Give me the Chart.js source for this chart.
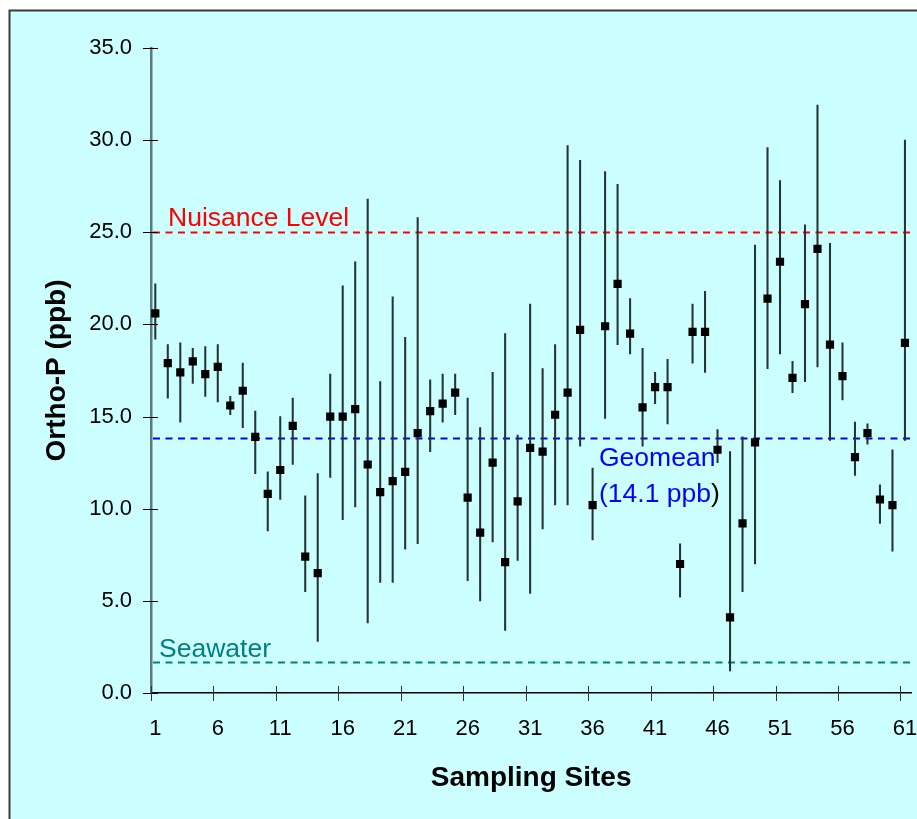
<!DOCTYPE html>
<html>
<head>
<meta charset="utf-8">
<script src="https://cdn.jsdelivr.net/npm/chart.js@4.4.1/dist/chart.umd.min.js"></script>
<style>
  body { margin: 0; background: #fff; }
  #wrap { width: 917px; height: 819px; }
</style>
</head>
<body>
<div id="wrap"><canvas id="orthoChart" width="917" height="819"></canvas></div>
<script>
const CHART = document.getElementById('orthoChart');

// sampling sites 1..61
var sites = [1,2,3,4,5,6,7,8,9,10,11,12,13,14,15,16,17,18,19,20,
  21,22,23,24,25,26,27,28,29,30,31,32,33,34,35,36,37,38,39,40,
  41,42,43,44,45,46,47,48,49,50,51,52,53,54,55,56,57,58,59,60,61];
var siteTicks = [1,6,11,16,21,26,31,36,41,46,51,56,61];
var yTicks = [0,5,10,15,20,25,30,35];

// ortho-P mean and range (ppb)
var means = [20.6,17.9,17.4,18.0,17.3,17.7,15.6,16.4,13.9,10.8,
  12.1,14.5,7.4,6.5,15.0,15.0,15.4,12.4,10.9,11.5,
  12.0,14.1,15.3,15.7,16.3,10.6,8.7,12.5,7.1,10.4,
  13.3,13.1,15.1,16.3,19.7,10.2,19.9,22.2,19.5,15.5,
  16.6,16.6,7.0,19.6,19.6,13.2,4.1,9.2,13.6,21.4,
  23.4,17.1,21.1,24.1,18.9,17.2,12.8,14.1,10.5,10.2,19.0];
var lows = [19.2,16.0,14.7,16.8,16.1,15.8,15.1,14.4,11.9,8.8,
  10.5,12.4,5.5,2.8,11.7,9.4,10.1,3.8,6.0,6.0,
  7.8,8.1,13.1,14.7,15.1,6.1,5.0,8.2,3.4,7.2,
  5.4,8.9,10.2,10.2,13.4,8.3,14.9,18.9,18.4,13.4,
  15.7,14.6,5.2,17.9,17.4,12.5,1.2,5.5,7.0,17.6,
  18.4,16.3,16.9,17.7,13.7,15.9,11.8,13.5,9.2,7.7,13.7];
var highs = [22.2,18.9,19.0,18.7,18.8,18.9,16.1,17.9,15.3,12.0,
  15.0,16.0,10.7,11.9,17.3,22.1,23.4,26.8,16.9,21.5,
  19.3,25.8,17.0,17.3,17.3,16.0,14.4,17.4,19.5,14.0,
  21.1,17.6,18.9,29.7,28.9,12.2,28.3,27.6,21.4,18.7,
  17.4,18.1,8.1,21.1,21.8,14.3,13.1,13.9,24.3,29.6,
  27.8,18.0,25.4,31.9,24.4,19.0,14.7,14.6,11.3,13.2,30.0];

var nuisance = 25.0;
var geomean = 13.85;
var seawater = 1.7;

var FONT = "'Liberation Sans', Arial, sans-serif";

var frame = {
  id: 'frame',
  beforeDraw(chart) {
    const ctx = chart.ctx;
    ctx.save();
    ctx.fillStyle = '#ffffff';
    ctx.fillRect(0, 0, chart.width, chart.height);
    ctx.fillStyle = '#ccffff';
    ctx.fillRect(9, 10, chart.width, chart.height);
    ctx.strokeStyle = '#3a3a3a';
    ctx.lineWidth = 2;
    ctx.strokeRect(9.5, 10.5, chart.width + 20, chart.height + 20);
    ctx.restore();
  }
};

var refLines = {
  id: 'refLines',
  beforeDatasetsDraw(chart) {
    const ctx = chart.ctx, y = chart.scales.y, a = chart.chartArea;
    const lines = [[nuisance, '#ff0000'], [geomean, '#0000ff'], [seawater, '#008080']];
    ctx.save();
    ctx.lineWidth = 2;
    ctx.setLineDash([7, 5.5]);
    lines.forEach(function(l) {
      const py = Math.round(y.getPixelForValue(l[0])) + 0.5;
      ctx.strokeStyle = l[1];
      ctx.beginPath();
      ctx.moveTo(a.left + 2, py);
      ctx.lineTo(a.right, py);
      ctx.stroke();
    });
    ctx.restore();
  },
  afterDatasetsDraw(chart) {
    const ctx = chart.ctx, y = chart.scales.y, a = chart.chartArea;
    ctx.save();
    ctx.font = '26.5px ' + FONT;
    ctx.textBaseline = 'alphabetic';
    ctx.textAlign = 'left';
    ctx.fillStyle = '#ff0000';
    ctx.fillText('Nuisance Level', a.left + 17, y.getPixelForValue(nuisance) - 6);
    ctx.fillStyle = '#008080';
    ctx.fillText('Seawater', a.left + 8, y.getPixelForValue(seawater) - 5);
    const gy = y.getPixelForValue(geomean);
    ctx.fillStyle = '#0000ff';
    ctx.fillText('Geomean', a.left + 448, gy + 28);
    const t = '(14.1 ppb';
    ctx.fillText(t, a.left + 448, gy + 64);
    ctx.fillStyle = '#000000';
    ctx.fillText(')', a.left + 448 + ctx.measureText(t).width, gy + 64);
    ctx.restore();
  }
};

// tick marks that cross the axis lines
var crossTicks = {
  id: 'crossTicks',
  afterDraw(chart) {
    const ctx = chart.ctx, x = chart.scales.x, y = chart.scales.y, a = chart.chartArea;
    ctx.save();
    ctx.lineWidth = 1;
    ctx.strokeStyle = '#000000';
    yTicks.forEach(function(v) {
      const py = Math.round(y.getPixelForValue(v)) + 0.5;
      ctx.beginPath();
      ctx.moveTo(a.left - 8, py);
      ctx.lineTo(a.left + 7, py);
      ctx.stroke();
    });
    ctx.strokeStyle = '#333333';
    siteTicks.forEach(function(v) {
      const px = Math.round(x.getPixelForValue(v - 0.36)) + 0.5;
      ctx.beginPath();
      ctx.moveTo(px, a.bottom - 7);
      ctx.lineTo(px, a.bottom + 8);
      ctx.stroke();
    });
    ctx.restore();
  }
};

var chart = new Chart(CHART, {
  type: 'bar',
  data: {
    datasets: [
      {
        type: 'line',
        label: 'Mean',
        data: sites.map(function(s, i) { return {x: s, y: means[i]}; }),
        showLine: false,
        pointStyle: 'rect',
        pointRadius: 5.8,
        pointBorderWidth: 0,
        pointBackgroundColor: '#000000',
        order: 0
      },
      {
        type: 'bar',
        label: 'Range',
        data: sites.map(function(s, i) { return {x: s, y: [lows[i], highs[i]]}; }),
        backgroundColor: '#263434',
        borderWidth: 0,
        barThickness: 1.4,
        grouped: false,
        order: 1
      }
    ]
  },
  options: {
    responsive: false,
    animation: false,
    layout: { padding: { left: 0, top: 48, right: 5, bottom: 0 } },
    plugins: { legend: { display: false }, tooltip: { enabled: false } },
    scales: {
      x: {
        type: 'linear',
        offset: false,
        min: 0.656,
        max: 61.5,
        afterBuildTicks: function(s) { s.ticks = siteTicks.map(function(v) { return {value: v}; }); },
        afterFit: function(s) { s.height = 126; s.paddingLeft = 0; s.paddingRight = 0; },
        grid: { display: false },
        border: { display: true, color: '#000000', width: 1.5 },
        ticks: {
          autoSkip: false, maxRotation: 0, padding: 15, color: '#000000',
          font: { family: FONT, size: 22 },
          callback: function(v) { return String(v); }
        },
        title: {
          display: true, text: 'Sampling Sites', color: '#000000',
          font: { family: FONT, size: 28, weight: 'bold' },
          padding: { top: 0, bottom: 24 }
        }
      },
      y: {
        min: 0,
        max: 35,
        afterBuildTicks: function(s) { s.ticks = yTicks.map(function(v) { return {value: v}; }); },
        afterFit: function(s) { s.width = 151; s.paddingTop = 0; s.paddingBottom = 0; },
        grid: { display: false },
        border: { display: true, color: '#5c7a7a', width: 2.5 },
        ticks: {
          padding: 11, color: '#000000',
          font: { family: FONT, size: 22 },
          callback: function(v) { return v.toFixed(1); }
        },
        title: {
          display: true, text: 'Ortho-P (ppb)', color: '#000000',
          font: { family: FONT, size: 28, weight: 'bold' },
          padding: { top: 40, bottom: 0 }
        }
      }
    }
  },
  plugins: [frame, refLines, crossTicks]
});
</script>
</body>
</html>
